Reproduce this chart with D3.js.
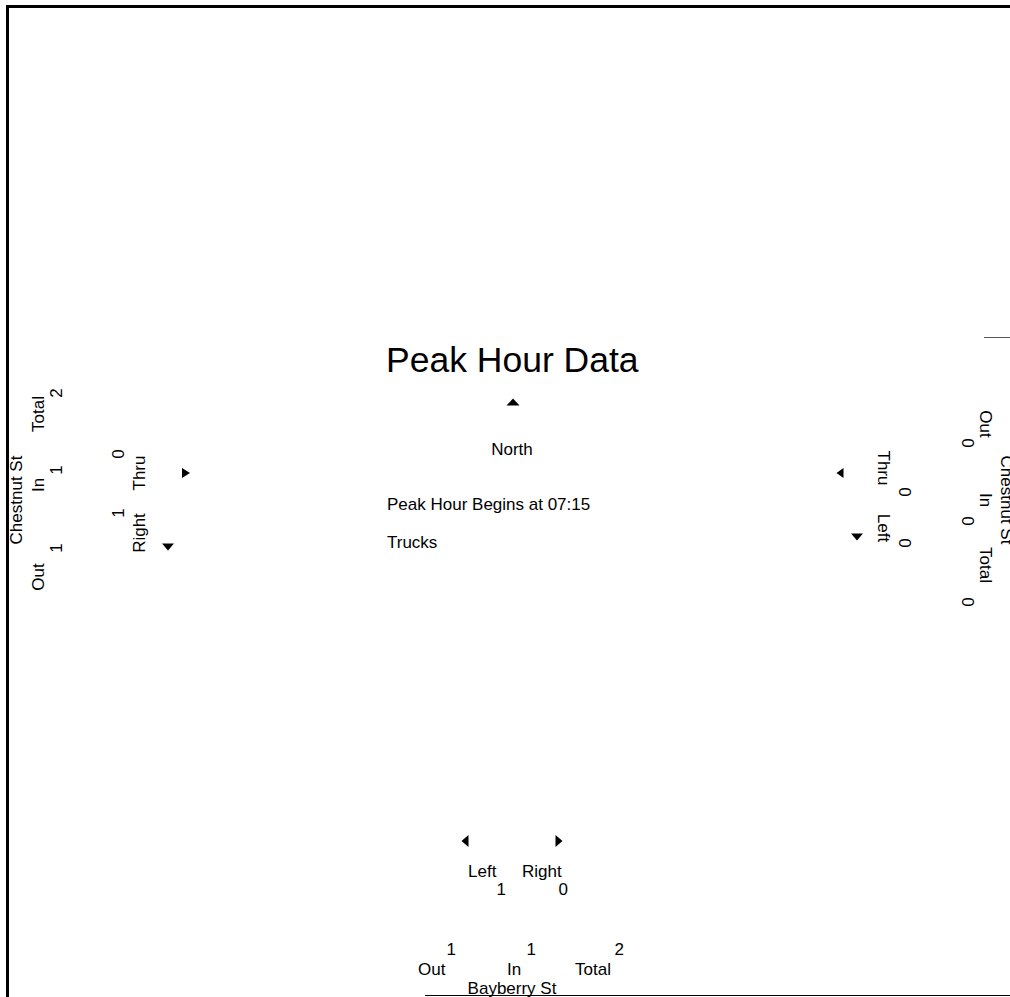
<!DOCTYPE html>
<html>
<head>
<meta charset="utf-8">
<script src="https://cdn.jsdelivr.net/npm/d3@7"></script>
<style>
  body { margin: 0; background: #fff; }
  text { font-family: "Liberation Sans", Arial, sans-serif; fill: #000; }
</style>
</head>
<body>
<script>
// leg summaries
var summaryLabels = ["Out", "In", "Total"];
var westName = "Chestnut St", eastName = "Chestnut St", southName = "Bayberry St";
var westTotals = [1, 1, 2];
var eastTotals = [0, 0, 0];
var southTotals = [1, 1, 2];

// turning movements
var westMoves = ["Thru", "Right"], westMoveValues = [0, 1];
var eastMoves = ["Thru", "Left"], eastMoveValues = [0, 0];
var southMoves = ["Left", "Right"], southMoveValues = [1, 0];

var titleText = "Peak Hour Data";
var infoLines = ["North", "Peak Hour Begins at 07:15", "Trucks"];

var width = 1010, height = 997;
var svg = d3.select("body").append("svg")
            .attr("width", width)
            .attr("height", height);

var fs = 17;

// frame lines
var line = d3.line();
svg.append("path").attr("d", line([[7.5, 997], [7.5, 6.5], [1010, 6.5]]))
   .attr("fill", "none").attr("stroke", "#000").attr("stroke-width", 3);
svg.append("path").attr("d", line([[425, 995.5], [1010, 995.5]]))
   .attr("fill", "none").attr("stroke", "#000").attr("stroke-width", 1.2);
svg.append("path").attr("d", line([[984, 337.5], [1010, 337.5]]))
   .attr("fill", "none").attr("stroke", "#555").attr("stroke-width", 1);

// small filled triangles; dir = direction the tip points
function arrow(cx, cy, dir, w, h) {
    var pts;
    if (dir === "up") pts = [[cx - w / 2, cy + h / 2], [cx + w / 2, cy + h / 2], [cx, cy - h / 2]];
    if (dir === "down") pts = [[cx - w / 2, cy - h / 2], [cx + w / 2, cy - h / 2], [cx, cy + h / 2]];
    if (dir === "left") pts = [[cx + w / 2, cy - h / 2], [cx + w / 2, cy + h / 2], [cx - w / 2, cy]];
    if (dir === "right") pts = [[cx - w / 2, cy - h / 2], [cx - w / 2, cy + h / 2], [cx + w / 2, cy]];
    svg.append("path").attr("d", line(pts) + "Z").attr("fill", "#000");
}

// rotated label helper
function rtext(x, y, rot, str, anchor) {
    return svg.append("text")
        .attr("transform", "translate(" + x + "," + y + ") rotate(" + rot + ")")
        .attr("text-anchor", anchor || "middle")
        .attr("font-size", fs)
        .text(str);
}

// center block
svg.append("text").attr("x", 386).attr("y", 372)
   .attr("font-size", 35.5).text(titleText);
arrow(513, 402, "up", 13, 7);
var infoY = d3.scaleOrdinal().domain(infoLines).range([455, 510, 548]);
svg.selectAll("text.info").data(infoLines).join("text")
   .attr("class", "info")
   .attr("x", (d, i) => i === 0 ? 512 : 387)
   .attr("text-anchor", (d, i) => i === 0 ? "middle" : "start")
   .attr("y", d => infoY(d))
   .attr("font-size", fs)
   .text(d => d);

// west leg (text rotated -90)
var westLabelY = d3.scaleOrdinal().domain(summaryLabels).range([577, 485, 414]);
var westValueY = d3.scaleOrdinal().domain(summaryLabels).range([548, 470, 393]);
rtext(22, 500, -90, westName);
summaryLabels.forEach(function(l, i) {
    rtext(44, westLabelY(l), -90, l);
    rtext(62, westValueY(l), -90, westTotals[i]);
});
var westMoveY = d3.scaleOrdinal().domain(westMoves).range([473, 533]);
var westMoveValY = d3.scaleOrdinal().domain(westMoves).range([454, 513]);
westMoves.forEach(function(m, i) {
    rtext(145, westMoveY(m), -90, m);
    rtext(124, westMoveValY(m), -90, westMoveValues[i]);
});
arrow(186, 473, "right", 8, 10);
arrow(168, 547, "down", 12, 7);

// east leg (text rotated 90)
var eastLabelY = d3.scaleOrdinal().domain(summaryLabels).range([424, 500, 565]);
var eastValueY = d3.scaleOrdinal().domain(summaryLabels).range([443, 521, 602]);
rtext(1001, 500, 90, eastName);
summaryLabels.forEach(function(l, i) {
    rtext(980, eastLabelY(l), 90, l);
    rtext(962, eastValueY(l), 90, eastTotals[i]);
});
var eastMoveY = d3.scaleOrdinal().domain(eastMoves).range([468, 528]);
var eastMoveValY = d3.scaleOrdinal().domain(eastMoves).range([492, 543]);
eastMoves.forEach(function(m, i) {
    rtext(878, eastMoveY(m), 90, m);
    rtext(899, eastMoveValY(m), 90, eastMoveValues[i]);
});
arrow(840, 473, "left", 7, 10);
arrow(857, 537, "down", 12, 7);

// south leg
var southLabelX = d3.scaleOrdinal().domain(summaryLabels).range([418, 507, 575]);
var southValueX = d3.scaleOrdinal().domain(summaryLabels).range([456, 536, 624]);
svg.selectAll("text.slabel").data(summaryLabels).join("text")
   .attr("class", "slabel")
   .attr("x", d => southLabelX(d)).attr("y", 975)
   .attr("font-size", fs).text(d => d);
svg.selectAll("text.svalue").data(southTotals).join("text")
   .attr("class", "svalue")
   .attr("x", (d, i) => southValueX(summaryLabels[i])).attr("y", 955)
   .attr("text-anchor", "end")
   .attr("font-size", fs).text(d => d);
svg.append("text").attr("x", 512).attr("y", 994)
   .attr("text-anchor", "middle").attr("font-size", fs).text(southName);

var southMoveX = d3.scaleOrdinal().domain(southMoves).range([468, 522]);
var southMoveValX = d3.scaleOrdinal().domain(southMoves).range([506, 568]);
svg.selectAll("text.smove").data(southMoves).join("text")
   .attr("class", "smove")
   .attr("x", d => southMoveX(d)).attr("y", 877)
   .attr("font-size", fs).text(d => d);
svg.selectAll("text.smoveval").data(southMoveValues).join("text")
   .attr("class", "smoveval")
   .attr("x", (d, i) => southMoveValX(southMoves[i])).attr("y", 895)
   .attr("text-anchor", "end")
   .attr("font-size", fs).text(d => d);
arrow(465, 841, "left", 7, 12);
arrow(559, 841, "right", 7, 12);
</script>
</body>
</html>
